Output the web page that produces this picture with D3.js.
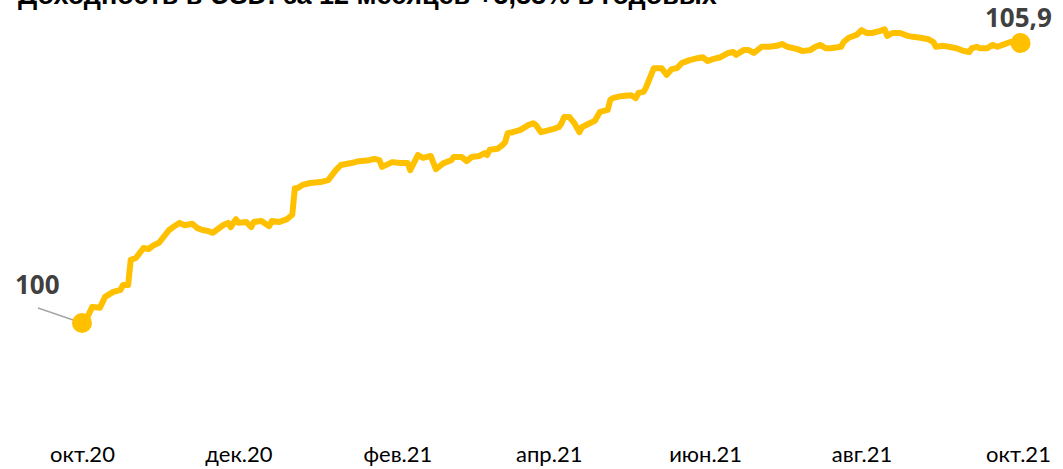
<!DOCTYPE html>
<meta charset="utf-8">
<style>
  body { margin: 0; background: #fff; }
  .title { font: bold 27px "Liberation Sans", Arial, sans-serif; fill: #000; }
  .lbl { font: bold 26px "Open Sans", sans-serif; fill: #404040; }
  .axis text { font: 22px Lato, sans-serif; fill: #000; }
</style>
<svg width="1063" height="469"></svg>
<script src="https://d3js.org/d3.v7.min.js"></script>
<script>
  // index of the fund in USD
  var dates = [
    "2020-10-01","2020-10-03","2020-10-05","2020-10-08","2020-10-10","2020-10-13","2020-10-16","2020-10-17",
    "2020-10-19","2020-10-20","2020-10-22","2020-10-25","2020-10-27","2020-10-29","2020-10-31","2020-11-04",
    "2020-11-05","2020-11-08","2020-11-10","2020-11-13","2020-11-15","2020-11-17","2020-11-19","2020-11-21",
    "2020-11-23","2020-11-25","2020-11-27","2020-11-28","2020-11-30","2020-12-01","2020-12-04","2020-12-06",
    "2020-12-07","2020-12-10","2020-12-13","2020-12-14","2020-12-17","2020-12-20","2020-12-22","2020-12-23",
    "2020-12-24","2020-12-26","2020-12-29","2021-01-02","2021-01-05","2021-01-08","2021-01-10","2021-01-14",
    "2021-01-17","2021-01-21","2021-01-23","2021-01-25","2021-01-26","2021-01-30","2021-02-02","2021-02-05",
    "2021-02-06","2021-02-09","2021-02-11","2021-02-14","2021-02-16","2021-02-19","2021-02-22","2021-02-23",
    "2021-02-26","2021-02-28","2021-03-02","2021-03-05","2021-03-07","2021-03-08","2021-03-09","2021-03-12",
    "2021-03-14","2021-03-15","2021-03-16","2021-03-18","2021-03-21","2021-03-24","2021-03-26","2021-03-27",
    "2021-03-29","2021-03-31","2021-04-03","2021-04-05","2021-04-06","2021-04-07","2021-04-09","2021-04-11",
    "2021-04-13","2021-04-14","2021-04-17","2021-04-19","2021-04-21","2021-04-24","2021-04-25","2021-04-26",
    "2021-04-29","2021-05-03","2021-05-05","2021-05-06","2021-05-08","2021-05-09","2021-05-12","2021-05-15",
    "2021-05-17","2021-05-19","2021-05-21","2021-05-23","2021-05-26","2021-05-29","2021-05-31","2021-06-02",
    "2021-06-04","2021-06-07","2021-06-10","2021-06-12","2021-06-13","2021-06-16","2021-06-18","2021-06-20",
    "2021-06-23","2021-06-26","2021-06-29","2021-07-01","2021-07-03","2021-07-07","2021-07-09","2021-07-12",
    "2021-07-14","2021-07-16","2021-07-18","2021-07-20","2021-07-24","2021-07-25","2021-07-27","2021-07-30",
    "2021-08-01","2021-08-03","2021-08-05","2021-08-08","2021-08-10","2021-08-11","2021-08-13","2021-08-16",
    "2021-08-19","2021-08-21","2021-08-24","2021-08-27","2021-08-29","2021-08-30","2021-09-02","2021-09-04",
    "2021-09-07","2021-09-10","2021-09-12","2021-09-13","2021-09-15","2021-09-16","2021-09-19","2021-09-21",
    "2021-09-23","2021-09-25","2021-09-28","2021-10-02"
  ];
  var values = [
    100.00,100.11,100.34,100.32,100.55,100.65,100.70,100.80,
    100.80,101.33,101.37,101.58,101.56,101.64,101.69,101.96,
    102.00,102.11,102.06,102.09,102.00,101.96,101.94,101.90,
    101.98,102.06,102.11,102.02,102.19,102.11,102.13,102.02,
    102.13,102.15,102.04,102.15,102.13,102.19,102.28,102.84,
    102.84,102.91,102.95,102.97,103.01,103.22,103.33,103.37,
    103.41,103.43,103.46,103.43,103.29,103.39,103.37,103.37,
    103.22,103.54,103.48,103.52,103.24,103.37,103.43,103.50,
    103.50,103.41,103.50,103.52,103.58,103.54,103.65,103.67,
    103.75,103.81,104.00,104.02,104.07,104.17,104.21,104.17,
    104.02,104.05,104.09,104.13,104.21,104.34,104.34,104.21,
    104.02,104.13,104.21,104.26,104.45,104.49,104.70,104.74,
    104.78,104.80,104.74,104.85,104.87,104.97,105.37,105.37,
    105.23,105.35,105.37,105.48,105.54,105.58,105.60,105.52,
    105.56,105.60,105.69,105.71,105.65,105.75,105.75,105.69,
    105.82,105.82,105.84,105.88,105.82,105.77,105.73,105.75,
    105.82,105.86,105.79,105.79,105.82,105.92,106.01,106.07,
    106.17,106.11,106.11,106.15,106.19,106.05,106.11,106.11,
    106.05,106.03,106.01,105.98,105.92,105.82,105.84,105.82,
    105.79,105.73,105.71,105.79,105.82,105.79,105.79,105.86,
    105.82,105.86,105.92,105.90
  ];
  var tickDates = ["2020-10-01","2020-12-01","2021-02-01","2021-04-01","2021-06-01","2021-08-01","2021-10-01"];
  var tickLabels = ["окт.20","дек.20","фев.21","апр.21","июн.21","авг.21","окт.21"];
  var title = "Доходность в USD: за 12 месяцев +5,88% в годовых";
  var startLabel = "100", endLabel = "105,9";

  var svg = d3.select("svg"),
    width = +svg.attr("width"),
    height = +svg.attr("height");

  var parse = d3.timeParse("%Y-%m-%d");
  var data = dates.map(function(d, i) {
    return { date: parse(d), value: values[i] };
  });

  var x = d3.scaleTime()
    .domain([parse(tickDates[0]), parse(tickDates[tickDates.length - 1])])
    .range([82, 1018]);

  var y = d3.scaleLinear()
    .domain([100, 105.9])
    .range([323, 43]);

  // title sits partly above the top edge, as in the original
  svg.append("text")
    .attr("class", "title")
    .attr("x", 18)
    .attr("y", 4)
    .text(title);

  var axis = svg.append("g")
    .attr("class", "axis")
    .attr("transform", "translate(0,440)")
    .call(d3.axisBottom(x)
      .tickValues(tickDates.map(parse))
      .tickSize(0)
      .tickPadding(6)
      .tickFormat(function(d, i) { return tickLabels[i]; }));
  axis.select(".domain").remove();

  var line = d3.line()
    .x(function(d) { return x(d.date); })
    .y(function(d) { return y(d.value); });

  svg.append("path")
    .datum(data)
    .attr("d", line)
    .attr("fill", "none")
    .attr("stroke", "#FFC000")
    .attr("stroke-width", 6)
    .attr("stroke-linejoin", "round")
    .attr("stroke-linecap", "round");

  var first = data[0], last = data[data.length - 1];

  // leader line for the start label
  svg.append("line")
    .attr("x1", 38).attr("y1", 308)
    .attr("x2", x(first.date)).attr("y2", y(first.value))
    .attr("stroke", "#A6A6A6")
    .attr("stroke-width", 1.5);

  svg.selectAll(".dot")
    .data([first, last])
    .enter().append("circle")
    .attr("class", "dot")
    .attr("cx", function(d) { return x(d.date); })
    .attr("cy", function(d) { return y(d.value); })
    .attr("r", 10)
    .attr("fill", "#FFC000");

  svg.append("text")
    .attr("class", "lbl")
    .attr("x", 15)
    .attr("y", 294)
    .text(startLabel);

  svg.append("text")
    .attr("class", "lbl")
    .attr("x", 985)
    .attr("y", 27)
    .text(endLabel);
</script>
